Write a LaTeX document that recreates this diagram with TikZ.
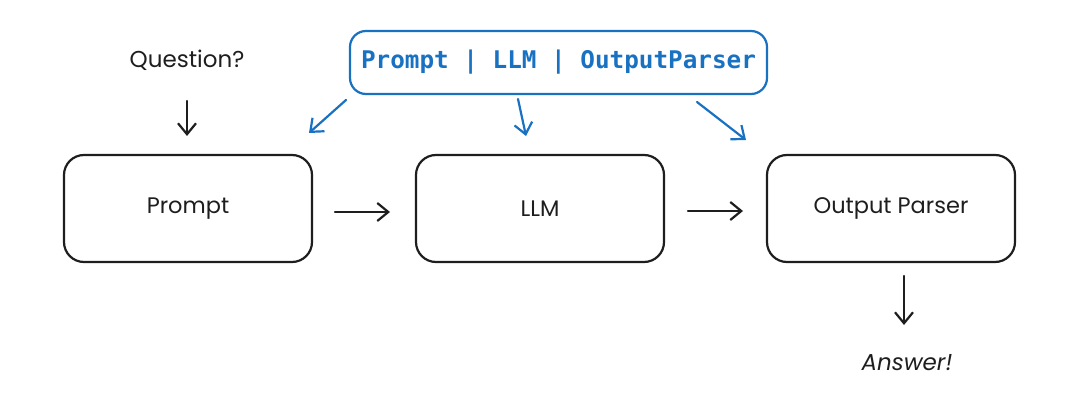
\documentclass[tikz,border=0pt]{standalone}
\usepackage{fontspec}
\setmainfont{Poppins}
\newfontfamily\codefont{DejaVu Sans Mono}
\usetikzlibrary{arrows.meta}
\definecolor{exblue}{HTML}{1971C2}
\definecolor{exblack}{HTML}{1E1E1E}
\begin{document}
\begin{tikzpicture}[x=1pt,y=-1pt,
  stagebox/.style={draw=exblack, line width=2.2pt, rounded corners=20pt, minimum width=248pt, minimum height=107pt, inner sep=0pt, font=\fontsize{22.5}{27}\selectfont, text=exblack},
  chainbox/.style={draw=exblue, line width=2.2pt, rounded corners=16pt, minimum width=417pt, minimum height=63pt, inner sep=0pt, font=\codefont\bfseries\fontsize{24.3}{28}\selectfont, text=exblue},
  lbl/.style={font=\fontsize{23}{27}\selectfont, text=exblack, inner sep=0pt},
  blk/.style={draw=exblack, line width=2.2pt, line cap=round, -{Straight Barb[length=11pt,width=18pt,line width=2.2pt]}},
  blu/.style={draw=exblue, line width=2.2pt, line cap=round, -{Straight Barb[length=11pt,width=18pt,line width=2.2pt]}}
]
\useasboundingbox (0,0) rectangle (1066,393);
\node[stagebox] (prompt) at (188,208.5) {Prompt};
\node[stagebox] (llm) at (540,208.5) {LLM};
\node[stagebox] (parser) at (891,208.5) {Output Parser};
\node[chainbox] (chain) at (558.5,62.5) {Prompt | LLM | OutputParser};
\node[lbl] (question) at (187,60) {Question?};
\node[lbl] (answer) at (907,363) {\itshape Answer!};
\coordinate (q1) at (187,101);
\coordinate (q2) at (187,136);
\draw[blk] (q1) -- (q2);
\coordinate (a1) at (335,212);
\coordinate (a2) at (390,212);
\draw[blk] (a1) -- (a2);
\coordinate (b1) at (688,211);
\coordinate (b2) at (743,211);
\draw[blk] (b1) -- (b2);
\coordinate (c1) at (904,276);
\coordinate (c2) at (904,325);
\draw[blk] (c1) -- (c2);
\coordinate (d1) at (346,100);
\coordinate (d2) at (309,133);
\draw[blu] (d1) -- (d2);
\coordinate (e1) at (518,99);
\coordinate (e2) at (526,136);
\draw[blu] (e1) -- (e2);
\coordinate (f1) at (697,102);
\coordinate (f2) at (746,140);
\draw[blu] (f1) -- (f2);
\end{tikzpicture}
\end{document}
